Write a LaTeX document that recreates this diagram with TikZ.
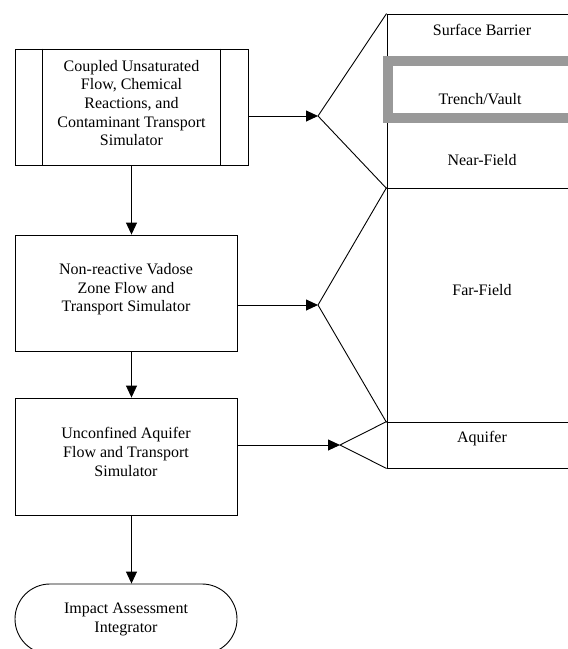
\documentclass[tikz,border=0pt]{standalone}
\usepackage{fontspec}
\setmainfont{Liberation Serif}
\usetikzlibrary{arrows.meta,shapes.misc}
\definecolor{trench}{RGB}{153,153,153}
\newcommand\diatxt{\fontsize{16}{18.6}\selectfont}
\tikzset{
  box/.style={draw, line width=0.9pt, inner sep=0pt},
  zone/.style={draw, line width=0.9pt, inner sep=0pt, minimum width=191pt},
  lbl/.style={font=\diatxt, inner sep=0pt, align=center},
  arr/.style={line width=0.9pt, -{Triangle[length=12pt,width=11pt]}},
  fan/.style={line width=0.9pt},
}
\begin{document}
\begin{tikzpicture}[x=1pt,y=-1pt]
\useasboundingbox (0,0) rectangle (568,649);
\clip (0,0) rectangle (568,649);

% left column
\node[box, minimum width=233pt, minimum height=116pt] (coupled) at (131.5,107) {};
\node[lbl] (coupledtext) at (131.5,103)
  {Coupled Unsaturated\\Flow, Chemical\\Reactions, and\\Contaminant Transport\\Simulator};
\draw[line width=0.9pt] ([xshift=28pt]coupled.north west) -- ([xshift=28pt]coupled.south west);
\draw[line width=0.9pt] ([xshift=-28pt]coupled.north east) -- ([xshift=-28pt]coupled.south east);

\node[box, minimum width=222pt, minimum height=116pt] (vadose) at (126,293) {};
\node[lbl] (vadosetext) at (126,289.5)
  {Non-reactive Vadose\\Zone Flow and\\Transport Simulator};
\node[box, minimum width=222pt, minimum height=117pt] (aqsim) at (126,456.5) {};
\node[lbl] (aqsimtext) at (126,452)
  {Unconfined Aquifer\\Flow and Transport\\Simulator};
\node[box, rounded rectangle, minimum width=222pt, minimum height=70pt] (impact) at (126,619) {};
\node[lbl] (impacttext) at (126,619.5) {Impact Assessment\\Integrator};

\draw[arr] (coupled.south) -- (coupled.south |- vadose.north);
\draw[arr] (vadose.south -| coupled.south) -- (aqsim.north -| coupled.south);
\draw[arr] (aqsim.south -| coupled.south) -- (impact.north -| coupled.south);

% right column
\node[zone, minimum height=174pt] (near) at (482.5,101) {};
\node[zone, minimum height=234pt] (far) at (482.5,305) {};
\node[zone, minimum height=46pt] (aqz) at (482.5,445) {};
\node[draw=trench, line width=10pt, inner sep=0pt, minimum width=200pt, minimum height=57pt] (trenchbox) at (488,89.5) {};

\node[lbl] (sb) at (482,30) {Surface Barrier};
\node[lbl] (tv) at (480,99) {Trench/Vault};
\node[lbl] (nf) at (482,160) {Near-Field};
\node[lbl] (ff) at (482,290) {Far-Field};
\node[lbl] (aql) at (482,439) {Aquifer};

% connectors
\coordinate (t1) at (318,116);
\coordinate (t2) at (318,305);
\coordinate (t3) at (340,445);
\draw[arr] (coupled.east |- t1) -- (t1);
\draw[arr] (vadose.east |- t2) -- (t2);
\draw[arr] (aqsim.east |- t3) -- (t3);
\draw[fan] (near.north west) -- (t1) -- (near.south west);
\draw[fan] (far.north west) -- (t2) -- (far.south west);
\draw[fan] (aqz.north west) -- (t3) -- (aqz.south west);
\end{tikzpicture}
\end{document}
